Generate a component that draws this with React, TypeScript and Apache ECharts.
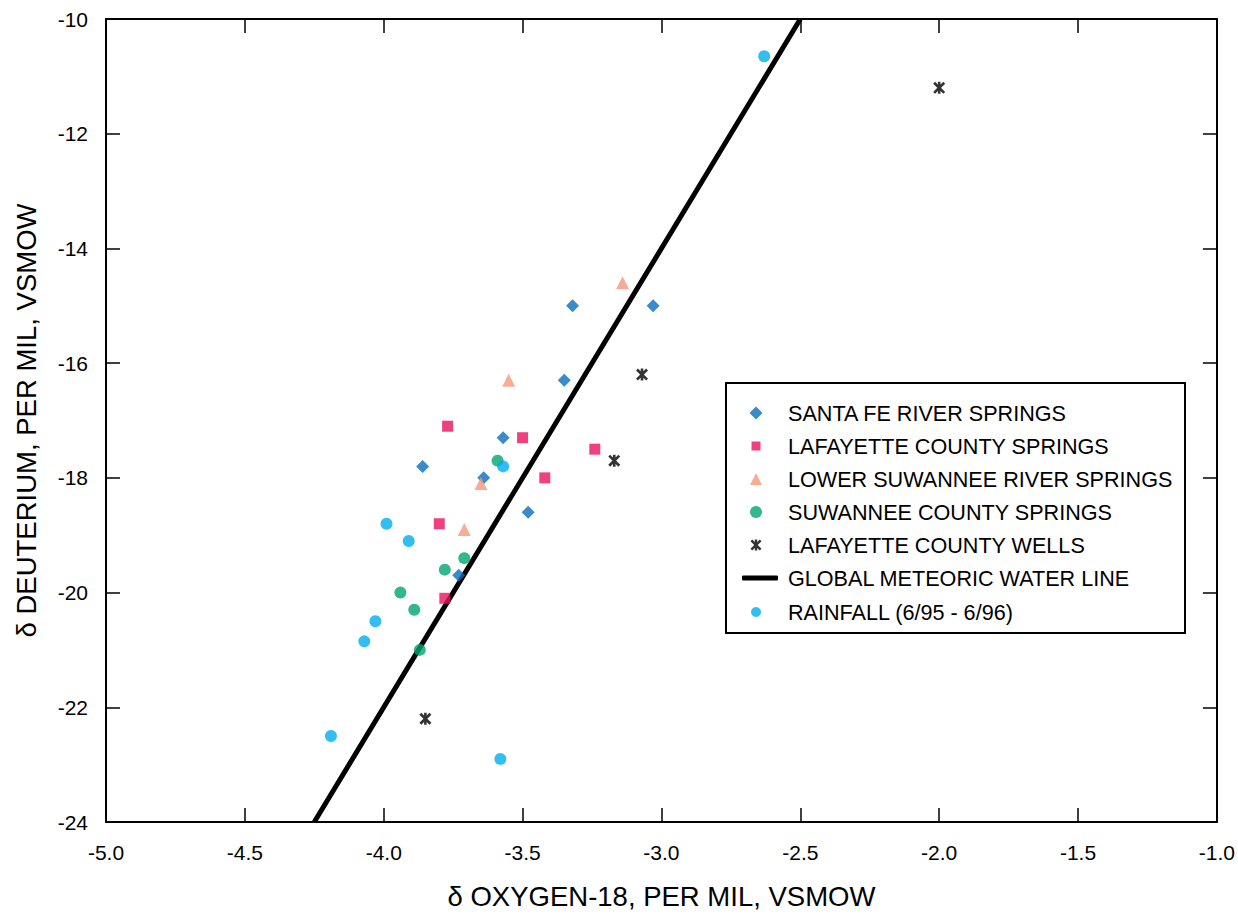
import React, { useEffect, useRef } from "react";
import * as echarts from "echarts";

const FONT = "'Liberation Sans', Arial, Helvetica, sans-serif";

const seriesNames = [
  "SANTA FE RIVER SPRINGS",
  "LAFAYETTE COUNTY SPRINGS",
  "LOWER SUWANNEE RIVER SPRINGS",
  "SUWANNEE COUNTY SPRINGS",
  "LAFAYETTE COUNTY WELLS",
  "GLOBAL METEORIC WATER LINE",
  "RAINFALL (6/95 - 6/96)",
];

const santaFe = [
  [-3.32, -15.0], [-3.03, -15.0], [-3.35, -16.3], [-3.57, -17.3],
  [-3.86, -17.8], [-3.64, -18.0], [-3.48, -18.6], [-3.73, -19.7],
];
const lafayetteSprings = [
  [-3.77, -17.1], [-3.5, -17.3], [-3.24, -17.5], [-3.42, -18.0],
  [-3.8, -18.8], [-3.78, -20.1],
];
const lowerSuwannee = [
  [-3.14, -14.6], [-3.55, -16.3], [-3.65, -18.1], [-3.71, -18.9],
];
const suwanneeCounty = [
  [-3.59, -17.7], [-3.71, -19.4], [-3.78, -19.6], [-3.94, -20.0],
  [-3.89, -20.3], [-3.87, -21.0],
];
const lafayetteWells = [
  [-2.0, -11.2], [-3.07, -16.2], [-3.17, -17.7], [-3.85, -22.2],
];
const gmwl = [
  [-4.25, -24], [-2.5, -10],
];
const rainfall = [
  [-2.63, -10.65], [-3.57, -17.8], [-3.99, -18.8], [-3.91, -19.1],
  [-4.03, -20.5], [-4.07, -20.85], [-4.19, -22.5], [-3.58, -22.9],
];

const xMin = -5, xMax = -1, xStep = 0.5;
const yMin = -24, yMax = -10, yStep = 2;

const ASTERISK =
  "path://M4.7,0 L7.3,0 L7.3,12 L4.7,12 Z M0,1.9 L1.9,0 L12,10.1 L10.1,12 Z M10.1,0 L12,1.9 L1.9,12 L0,10.1 Z";

const colors = {
  santaFe: "#0a6ebd",
  lafSprings: "#eb1160",
  lowerSuw: "#f5997b",
  suwCounty: "#00a571",
  wells: "#000000",
  line: "#000000",
  rain: "#00aeef",
};

export default function App() {
  const ref = useRef<HTMLDivElement>(null);

  useEffect(() => {
    if (!ref.current) return;
    const chart = echarts.init(ref.current, null, { renderer: "svg" });

    const axisLine = { show: true, lineStyle: { color: "#000", width: 2 } };
    const axisTick = { show: true, inside: true, length: 14, lineStyle: { color: "#000", width: 1.5 } };

    const legendIcon = (
      idx: number,
      center: number,
      w: number,
      h: number,
      icon?: string,
      itemStyle?: any
    ) => {
      const left = idx === 5 ? 742 : 756 - w / 2;
      const pad = 788 - (left + w + 5);
      const item: any = { name: seriesNames[idx] };
      if (icon) item.icon = icon;
      if (itemStyle) item.itemStyle = itemStyle;
      return {
        show: true,
        left,
        top: center - 12,
        orient: "vertical",
        padding: 0,
        itemWidth: w,
        itemHeight: h,
        selectedMode: false,
        data: [item],
        textStyle: {
          fontFamily: FONT,
          fontSize: 21.6,
          color: "#000",
          lineHeight: 24,
          padding: [0, 0, 0, pad],
        },
      };
    };

    const option: any = {
      animation: false,
      backgroundColor: "#fff",
      grid: { left: 106, top: 19, width: 1120, height: 806, containLabel: false },
      xAxis: [
        {
          type: "value",
          min: xMin,
          max: xMax,
          interval: xStep,
          position: "bottom",
          name: "δ OXYGEN-18, PER MIL, VSMOW",
          nameLocation: "middle",
          nameGap: 60,
          nameTextStyle: { fontFamily: FONT, fontSize: 27.5, color: "#000" },
          axisLine,
          axisTick,
          axisLabel: {
            formatter: (v: number) => v.toFixed(1),
            fontFamily: FONT,
            fontSize: 21,
            color: "#000",
            margin: 20,
          },
          splitLine: { show: false },
        },
        {
          type: "value",
          min: xMin,
          max: xMax,
          interval: xStep,
          position: "top",
          axisLine,
          axisTick,
          axisLabel: { show: false },
          splitLine: { show: false },
        },
      ],
      yAxis: [
        {
          type: "value",
          min: yMin,
          max: yMax,
          interval: yStep,
          position: "left",
          name: "δ DEUTERIUM, PER MIL, VSMOW",
          nameLocation: "middle",
          nameGap: 66,
          nameRotate: 90,
          nameTextStyle: { fontFamily: FONT, fontSize: 27.5, color: "#000" },
          axisLine,
          axisTick,
          axisLabel: {
            fontFamily: FONT,
            fontSize: 21,
            color: "#000",
            margin: 18,
          },
          splitLine: { show: false },
        },
        {
          type: "value",
          min: yMin,
          max: yMax,
          interval: yStep,
          position: "right",
          axisLine,
          axisTick,
          axisLabel: { show: false },
          splitLine: { show: false },
        },
      ],
      graphic: [
        {
          type: "rect",
          z: 3,
          shape: { x: 726, y: 383, width: 459, height: 250 },
          style: { fill: "#fff", stroke: "#000", lineWidth: 2 },
        },
      ],
      legend: [
        legendIcon(0, 413, 13, 13),
        legendIcon(1, 446, 9, 9),
        legendIcon(2, 479, 12, 12),
        legendIcon(3, 512, 12, 12),
        legendIcon(4, 545, 11, 11, undefined, { color: "#000" }),
        legendIcon(5, 578, 36, 5, "roundRect", { color: "#000" }),
        legendIcon(6, 612, 10, 10),
      ],
      series: [
        {
          name: seriesNames[5],
          type: "line",
          data: gmwl,
          symbol: "none",
          color: colors.line,
          lineStyle: { color: colors.line, width: 5 },
          itemStyle: { color: colors.line },
          z: 1,
        },
        {
          name: seriesNames[0],
          type: "scatter",
          data: santaFe,
          symbol: "diamond",
          symbolSize: 13,
          itemStyle: { color: colors.santaFe },
        },
        {
          name: seriesNames[1],
          type: "scatter",
          data: lafayetteSprings,
          symbol: "rect",
          symbolSize: 11,
          itemStyle: { color: colors.lafSprings },
        },
        {
          name: seriesNames[2],
          type: "scatter",
          data: lowerSuwannee,
          symbol: "triangle",
          symbolSize: 13,
          itemStyle: { color: colors.lowerSuw },
        },
        {
          name: seriesNames[3],
          type: "scatter",
          data: suwanneeCounty,
          symbol: "circle",
          symbolSize: 12,
          itemStyle: { color: colors.suwCounty },
        },
        {
          name: seriesNames[4],
          type: "scatter",
          data: lafayetteWells,
          symbol: ASTERISK,
          symbolSize: 12,
          itemStyle: { color: colors.wells },
        },
        {
          name: seriesNames[6],
          type: "scatter",
          data: rainfall,
          symbol: "circle",
          symbolSize: 12,
          itemStyle: { color: colors.rain },
        },
      ],
    };

    chart.setOption(option);
    return () => chart.dispose();
  }, []);

  return (
    <div
      ref={ref}
      style={{ position: "absolute", left: 0, top: 0, width: 1238, height: 915, background: "#fff" }}
    />
  );
}
